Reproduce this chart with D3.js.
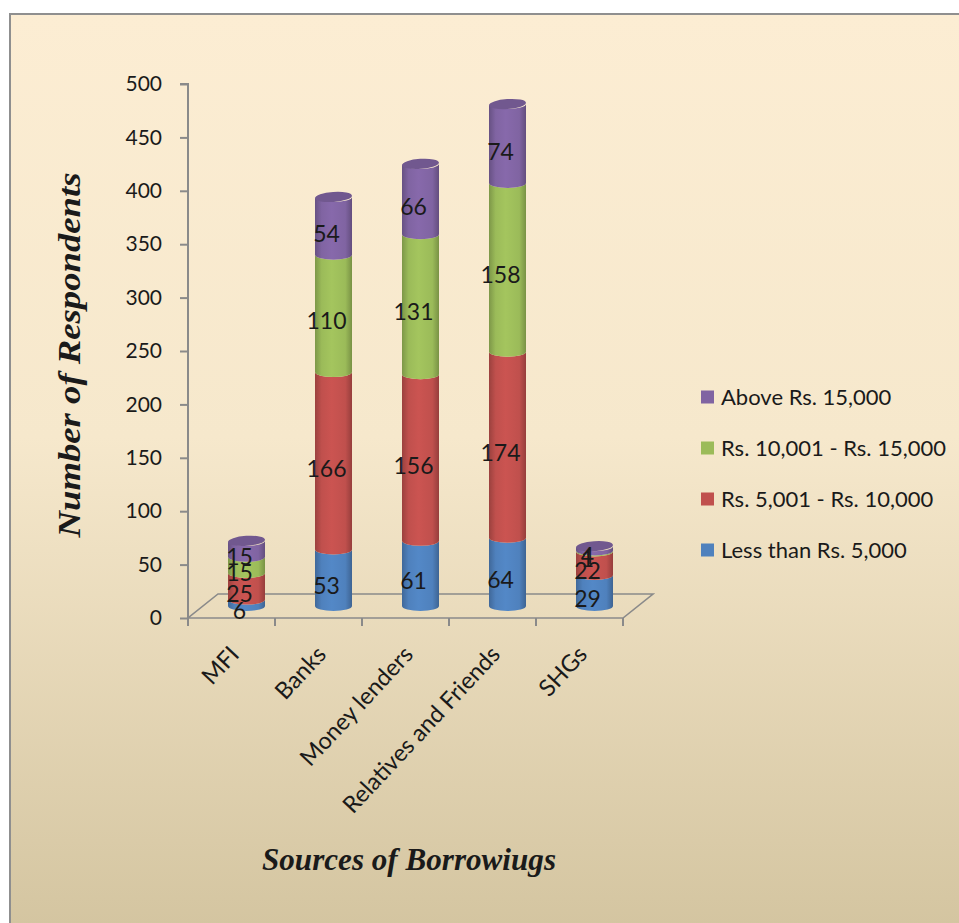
<!DOCTYPE html>
<html>
<head>
<meta charset="utf-8">
<script src="https://cdn.jsdelivr.net/npm/d3@7"></script>
<style>
  html, body { margin: 0; padding: 0; background: #ffffff; }
  svg { display: block; }
  text { font-family: Lato, "Open Sans", sans-serif; fill: #1a1a1a; }
</style>
</head>
<body>
<svg id="chart" width="959" height="923"></svg>
<script>
// Borrowing sources, split by loan amount band
const categories = ["MFI", "Banks", "Money lenders", "Relatives and Friends", "SHGs"];
const seriesNames = ["Less than Rs. 5,000", "Rs. 5,001 - Rs. 10,000", "Rs. 10,001 - Rs. 15,000", "Above Rs. 15,000"];
const lessThan5000 = [6, 53, 61, 64, 29];
const from5001To10000 = [25, 166, 156, 174, 22];
const from10001To15000 = [15, 110, 131, 158, 1];
const above15000 = [15, 54, 66, 74, 4];
const yTicks = [0, 50, 100, 150, 200, 250, 300, 350, 400, 450, 500];
const seriesColors = ["#4F81BD", "#C0504D", "#9BBB59", "#8064A2"];

const seriesValues = [lessThan5000, from5001To10000, from10001To15000, above15000];

const svg = d3.select("#chart");
const defs = svg.append("defs");

// Chart area background
const bg = defs.append("linearGradient").attr("id", "bg").attr("x1", 0).attr("y1", 0).attr("x2", 0).attr("y2", 1);
bg.append("stop").attr("offset", "0%").attr("stop-color", "#FCEDD3");
bg.append("stop").attr("offset", "45%").attr("stop-color", "#F6E8CC");
bg.append("stop").attr("offset", "100%").attr("stop-color", "#D2C39E");
svg.append("rect").attr("x", 10).attr("y", 14).attr("width", 980).attr("height", 940)
  .attr("fill", "url(#bg)").attr("stroke", "#8f8f8f").attr("stroke-width", 2);

// Cylinder shading per series
seriesColors.forEach((c, i) => {
  const base = d3.color(c);
  const g = defs.append("linearGradient").attr("id", "cyl" + i).attr("x1", 0).attr("x2", 1).attr("y1", 0).attr("y2", 0);
  g.append("stop").attr("offset", "0%").attr("stop-color", base.darker(0.6));
  g.append("stop").attr("offset", "18%").attr("stop-color", base);
  g.append("stop").attr("offset", "45%").attr("stop-color", base.brighter(0.15));
  g.append("stop").attr("offset", "82%").attr("stop-color", base);
  g.append("stop").attr("offset", "100%").attr("stop-color", base.darker(0.7));
});

// Scales: front plane of the 3-D box
const x = d3.scaleBand().domain(categories).range([188, 623]).padding(0);
const y = d3.scaleLinear().domain([0, 500]).range([618, 84]);
const depthX = 30, depthY = -24;
const gridColor = "#8a8a8a";

// Floor
const x0 = x.range()[0], x1 = x.range()[1], y0 = y(0);
svg.append("path")
  .attr("d", `M${x0},${y0} L${x1},${y0} L${x1 + depthX},${y0 + depthY} L${x0 + depthX},${y0 + depthY} Z`)
  .attr("fill", "none").attr("stroke", gridColor).attr("stroke-width", 1.6);

// Vertical axis
const yAxis = d3.axisLeft(y).tickValues(yTicks).tickSize(8).tickPadding(18).tickFormat(d3.format("d"));
const yg = svg.append("g").attr("transform", `translate(${x0},0)`).call(yAxis);
yg.select(".domain").attr("stroke", gridColor).attr("stroke-width", 2).attr("d", `M-8,${y(500)}H0V${y(0)}`);
yg.selectAll(".tick line").attr("stroke", gridColor).attr("stroke-width", 2);
yg.selectAll(".tick text").style("font-family", "Lato, sans-serif").style("font-size", "21px").attr("fill", "#1a1a1a");

// Horizontal axis: ticks on category boundaries
const bounds = categories.map(c => x(c)).concat([x1]);
svg.append("g").selectAll("line").data(bounds).join("line")
  .attr("x1", d => d).attr("x2", d => d).attr("y1", y0).attr("y2", y0 + 8)
  .attr("stroke", gridColor).attr("stroke-width", 2);

svg.append("g").selectAll("text").data(categories).join("text")
  .attr("transform", d => `translate(${x(d) + x.bandwidth() / 2 + 3},${y0 + 32}) rotate(-47)`)
  .attr("text-anchor", "end").attr("dy", "0.35em")
  .style("font-size", "23.5px").text(d => d);

// Stacked cylinders at mid depth
const rx = 18.5, ry = 5;
const stack = categories.map((c, ci) => {
  let acc = 0;
  return seriesValues.map((vals, si) => {
    const seg = { cat: c, series: si, v: vals[ci], lo: acc, hi: acc + vals[ci] };
    acc += vals[ci];
    return seg;
  });
});

const cylG = svg.append("g");
stack.forEach(segs => {
  const cx = x(segs[0].cat) + x.bandwidth() / 2 + depthX / 2;
  const left = cx - rx, right = cx + rx;
  segs.forEach(s => {
    const yb = y(s.lo) + depthY / 2;
    const yt = y(s.hi) + depthY / 2;
    cylG.append("path")
      .attr("d", `M${left},${yt} L${left},${yb} A${rx},${ry} 0 0 0 ${right},${yb} L${right},${yt} A${rx},${ry} 0 0 1 ${left},${yt} Z`)
      .attr("fill", `url(#cyl${s.series})`);
  });
  const top = segs[segs.length - 1];
  const ytop = y(top.hi) + depthY / 2;
  cylG.append("ellipse")
    .attr("cx", cx).attr("cy", ytop).attr("rx", rx).attr("ry", ry)
    .attr("transform", `rotate(-4,${cx},${ytop})`)
    .attr("fill", d3.color(seriesColors[top.series]).darker(0.35));
});

// Value labels
const labelG = svg.append("g");
stack.forEach(segs => {
  const cx = x(segs[0].cat) + x.bandwidth() / 2 + depthX / 2;
  segs.forEach(s => {
    labelG.append("text")
      .attr("x", cx - 7)
      .attr("y", y((s.lo + s.hi) / 2) + depthY / 2 + 8)
      .attr("text-anchor", "middle").attr("dy", "0.35em")
      .style("font-size", "23px").text(s.v);
  });
});

// Legend (top entry is the last series)
const legend = svg.append("g");
const legendRows = [3, 2, 1, 0];
const legendY = d3.scalePoint().domain(legendRows).range([397, 550]);
legendRows.forEach(si => {
  const ly = legendY(si);
  legend.append("rect").attr("x", 701).attr("y", ly - 6.5).attr("width", 13).attr("height", 13)
    .attr("fill", seriesColors[si]);
  legend.append("text").attr("x", 721).attr("y", ly).attr("dy", "0.35em")
    .style("font-size", "22px").text(seriesNames[si]);
});

// Axis titles
svg.append("text")
  .attr("transform", "translate(80,355) rotate(-90)")
  .attr("text-anchor", "middle")
  .attr("textLength", 365).attr("lengthAdjust", "spacingAndGlyphs")
  .style("font-family", "'Liberation Serif', serif").style("font-style", "italic").style("font-weight", "bold")
  .style("font-size", "32px").text("Number of Respondents");

svg.append("text")
  .attr("x", 409).attr("y", 870)
  .attr("text-anchor", "middle")
  .attr("textLength", 294).attr("lengthAdjust", "spacingAndGlyphs")
  .style("font-family", "'Liberation Serif', serif").style("font-style", "italic").style("font-weight", "bold")
  .style("font-size", "31px").text("Sources of Borrowiugs");
</script>
</body>
</html>
